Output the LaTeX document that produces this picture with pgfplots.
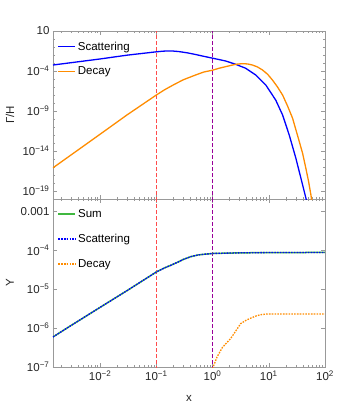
\documentclass[border=0pt]{standalone}
\usepackage{fontspec}
\setmainfont{Liberation Sans}
\usepackage{pgfplots}
\pgfplotsset{compat=1.18}

\definecolor{mblue}{rgb}{0,0,1}
\definecolor{morange}{rgb}{1,0.55,0}
\definecolor{mgreen}{rgb}{0.25,0.72,0.25}
\definecolor{mred}{rgb}{1,0.3,0.3}
\definecolor{mpurple}{rgb}{0.6,0,0.6}
\definecolor{axgray}{rgb}{0.6,0.6,0.6}

\newcommand{\fnt}{\fontsize{11.5}{13}\selectfont}

\begin{document}
\begin{tikzpicture}
% bottom panel: abundance Y
\begin{axis}[
    xmode=log, ymode=log, scale only axis,
    width=272pt, height=168pt,
    at={(53pt,41pt)}, anchor=south west,
    xmin=1.45e-3, xmax=100,
    ymin=1e-7, ymax=2.05e-3,
    axis line style={axgray},
    major tick style={axgray}, minor tick style={axgray},
    major tick length=4pt, minor tick length=2.2pt,
    tick align=inside,
    xtick={1e-2,1e-1,1,10,100},
    minor xtick={2e-3,3e-3,4e-3,5e-3,6e-3,7e-3,8e-3,9e-3,2e-2,3e-2,4e-2,5e-2,6e-2,7e-2,8e-2,9e-2,0.2,0.3,0.4,0.5,0.6,0.7,0.8,0.9,2,3,4,5,6,7,8,9,20,30,40,50,60,70,80,90},
    ytick={1e-3,1e-4,1e-5,1e-6,1e-7},
    yticklabels={0.001,10\textsuperscript{−4},10\textsuperscript{−5},10\textsuperscript{−6},10\textsuperscript{−7}},
    xticklabels={10\textsuperscript{−2},10\textsuperscript{−1},10\textsuperscript{0},10\textsuperscript{1},10\textsuperscript{2}},
    ticklabel style={font=\fnt, text=black!85},
    label style={font=\fnt, text=black!85},
    xlabel={x}, ylabel={Y},
    ylabel style={at={(axis description cs:-0.158,0.5)}, anchor=center},
    xlabel style={at={(axis description cs:0.5,-0.185)}, anchor=center},
    legend style={draw=none, fill=none, at={(0.005,0.965)}, anchor=north west,
                  row sep=11.5pt, font=\fnt},
    legend cell align=left,
  ]
  \addplot[mred, line width=1.5pt, dash pattern=on 4pt off 2pt, forget plot] coordinates {(0.1,1e-8) (0.1,1e-2)};
  \addplot[mpurple, line width=1.5pt, dash pattern=on 4pt off 2pt, forget plot] coordinates {(1,1e-8) (1,1e-2)};
  \addplot[mgreen, line width=1.5pt] coordinates {
    (1.45e-3,5.9e-7) (3e-3,1.15e-6) (1e-2,3.4e-6) (3e-2,9.1e-6) (1e-1,2.75e-5)
    (0.14,3.5e-5) (0.18,4.07e-5) (0.24,4.9e-5) (0.3,5.75e-5) (0.41,6.8e-5)
    (0.55,7.5e-5) (0.69,7.8e-5) (1,8.2e-5) (3,8.5e-5) (10,8.65e-5) (100,8.7e-5)};
  \addlegendentry{Sum}
  \addplot[mblue, line width=1.3pt, dash pattern=on 1.6pt off 1.2pt] coordinates {
    (1.45e-3,5.9e-7) (3e-3,1.15e-6) (1e-2,3.4e-6) (3e-2,9.1e-6) (1e-1,2.75e-5)
    (0.14,3.5e-5) (0.18,4.07e-5) (0.24,4.9e-5) (0.3,5.75e-5) (0.41,6.8e-5)
    (0.55,7.5e-5) (0.69,7.8e-5) (1,8.2e-5) (3,8.5e-5) (10,8.65e-5) (100,8.7e-5)};
  \addlegendentry{Scattering}
  \addplot[morange, line width=1.3pt, dash pattern=on 1.6pt off 1.2pt] coordinates {
    (1.0,9e-8) (1.1,1.3e-7) (1.2,1.8e-7) (1.5,3.2e-7) (2.1,5.4e-7) (2.6,8.5e-7)
    (3.16,1.3e-6) (4,1.6e-6) (4.8,1.8e-6) (6,2.05e-6) (7.2,2.2e-6) (9,2.28e-6)
    (11,2.3e-6) (100,2.3e-6)};
  \addlegendentry{Decay}
\end{axis}
% top panel: rates
\begin{axis}[
    xmode=log, ymode=log, scale only axis,
    width=272pt, height=168pt,
    at={(53pt,209pt)}, anchor=south west,
    xmin=1.45e-3, xmax=100,
    ymin=1e-20, ymax=10,
    axis line style={axgray},
    major tick style={axgray}, minor tick style={axgray},
    major tick length=4pt, minor tick length=2.2pt,
    tick align=inside,
    xtick={1e-2,1e-1,1,10,100},
    minor xtick={2e-3,3e-3,4e-3,5e-3,6e-3,7e-3,8e-3,9e-3,2e-2,3e-2,4e-2,5e-2,6e-2,7e-2,8e-2,9e-2,0.2,0.3,0.4,0.5,0.6,0.7,0.8,0.9,2,3,4,5,6,7,8,9,20,30,40,50,60,70,80,90},
    ytick={10,1e-4,1e-9,1e-14,1e-19},
    minor ytick={1e-20,1e-18,1e-17,1e-16,1e-15,1e-13,1e-12,1e-11,1e-10,1e-8,1e-7,1e-6,1e-5,1e-3,1e-2,1e-1,1},
    yticklabels={10,10\textsuperscript{−4},10\textsuperscript{−9},10\textsuperscript{−14},10\textsuperscript{−19}},
    xticklabels={},
    ticklabel style={font=\fnt, text=black!85},
    label style={font=\fnt, text=black!85},
    ylabel={Γ/H},
    ylabel style={at={(axis description cs:-0.158,0.5)}, anchor=center},
    legend style={draw=none, fill=none, at={(0.005,0.96)}, anchor=north west,
                  row sep=11pt, font=\fnt},
    legend cell align=left,
  ]
  \addplot[mred, line width=1.5pt, dash pattern=on 4pt off 2pt, forget plot] coordinates {(0.1,1e-21) (0.1,100)};
  \addplot[mpurple, line width=1.5pt, dash pattern=on 4pt off 2pt, forget plot] coordinates {(1,1e-21) (1,100)};
  \addplot[mblue, line width=1.3pt] coordinates {
    (1.45e-3,5.6e-4) (1e-2,3.2e-3) (3e-2,9.5e-3) (1e-1,2.5e-2) (0.13,3.0e-2)
    (0.16,3.2e-2) (0.2,3.1e-2) (0.25,2.7e-2) (0.35,1.9e-2) (0.5,1.15e-2)
    (0.7,6.8e-3) (1,4e-3) (1.3,2.7e-3) (1.71,1.78e-3) (2.58,6.9e-4) (3.88,2.2e-4)
    (5.86,3.2e-5) (8.84,1.8e-6) (13.3,2.3e-8) (17.6,3.2e-10) (23.1,1e-12)
    (30.3,1.26e-15) (37.3,4e-18) (45.8,1.26e-20) (50.2,1e-21)};
  \addlegendentry{Scattering}
  \addplot[morange, line width=1.3pt] coordinates {
    (1.45e-3,7.9e-17) (1e-2,1.26e-12) (3e-2,3.2e-10) (1e-1,1e-7) (0.14,4.5e-7)
    (0.2,1.8e-6) (0.3,7.9e-6) (0.5,3.2e-5) (0.7,7.5e-5) (1,1.26e-4) (1.3,2.2e-4)
    (1.71,3.5e-4) (2.58,6.9e-4) (3.39,8.3e-4) (4.2,7.6e-4) (5.12,5.6e-4)
    (6.3,3.2e-4) (7.72,1.35e-4) (9.5,4e-5) (11.6,7.6e-6) (14.3,1e-6) (17.6,1e-7)
    (21.5,4.5e-9) (26.5,1.26e-10) (34.8,1.6e-13) (40,5e-15) (45.8,6.3e-17)
    (51,1.6e-18) (56.2,3.2e-20) (60,1e-21)};
  \addlegendentry{Decay}
  \node[anchor=center, font=\fontsize{12.5}{14}\selectfont, text=black!85] at (axis description cs:0.5,1.101)
    {\textit{m}\textsubscript{\textit{T}}=1TeV, c\textit{τ}\textsubscript{0}=3m, \textit{T}\textsubscript{\textit{R}}=10\textsuperscript{4}GeV};
\end{axis}
\pgfresetboundingbox
\path[use as bounding box] (0pt,0pt) rectangle (341pt,408pt);
\end{tikzpicture}
\end{document}
